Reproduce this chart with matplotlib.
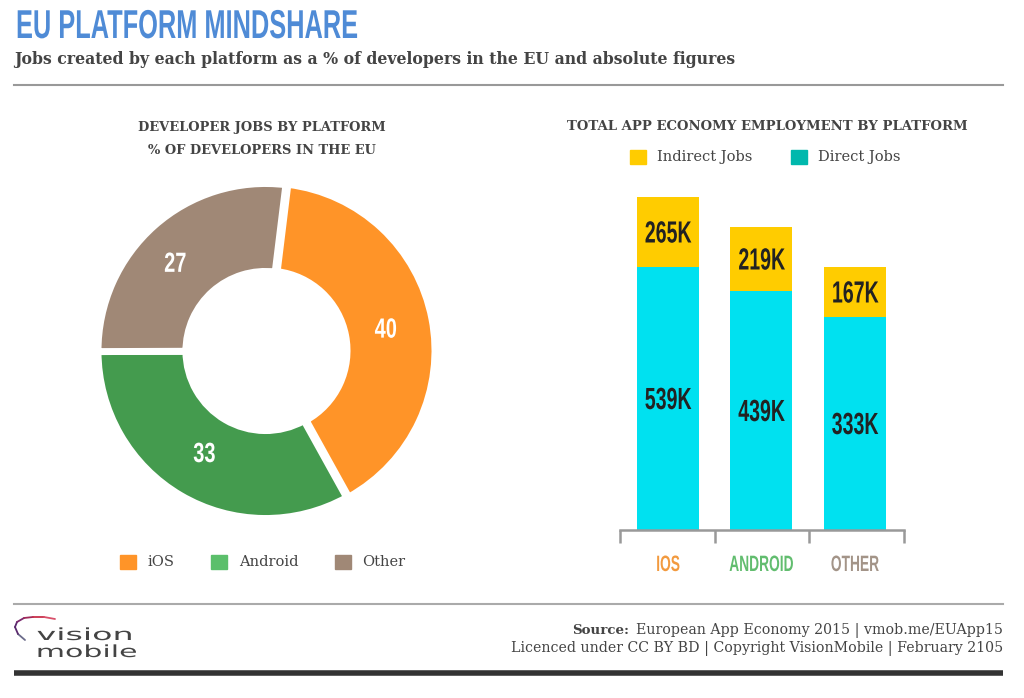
import matplotlib
matplotlib.use("Agg")
import matplotlib.pyplot as plt
import numpy as np
from matplotlib.patches import Patch
from matplotlib.patheffects import AbstractPathEffect
from matplotlib.transforms import Affine2D

W, H = 1024, 698
SANS = ["Liberation Sans", "DejaVu Sans"]
SERIF = ["DejaVu Serif"]

platforms = ["iOS", "Android", "Other"]
share_values = [40, 33, 27]
share_colors = ["#FF9428", "#449B4E", "#A08876"]
share_legend_colors = ["#FF9428", "#5BBF6B", "#A08876"]

bar_labels = ["IOS", "ANDROID", "OTHER"]
bar_label_colors = ["#F29A3F", "#62BD6F", "#A39488"]
direct_labels = ["539K", "439K", "333K"]
indirect_labels = ["265K", "219K", "167K"]
# The source's bars are not drawn to scale with their labels, so drawn heights are read separately.
direct_heights = [263, 239, 213]
indirect_heights = [70, 64, 50]


class HScale(AbstractPathEffect):
    """Squeeze or stretch a text horizontally: no condensed face is installed."""

    def __init__(self, sx, anchor="center"):
        super().__init__()
        self.sx, self.anchor = sx, anchor

    def draw_path(self, renderer, gc, tpath, affine, rgbFace=None):
        box = tpath.transformed(affine).get_extents()
        x0 = box.x0 if self.anchor == "left" else (box.x0 + box.x1) / 2
        squeeze = Affine2D().translate(-x0, 0).scale(self.sx, 1).translate(x0, 0)
        renderer.draw_path(gc, tpath, affine + squeeze, rgbFace)


fig = plt.figure(figsize=(W / 100, H / 100), dpi=100, facecolor="white")


def axes_px(x0, y0, x1, y1):
    return fig.add_axes([x0 / W, 1 - y1 / H, (x1 - x0) / W, (y1 - y0) / H])


page = axes_px(0, 0, W, H)
page.set_xlim(0, W)
page.set_ylim(H, 0)
page.axis("off")

page.text(15, 38, "EU PLATFORM MINDSHARE", family=SANS, weight="bold", fontsize=29, color="#4F8BD6", va="baseline",
          path_effects=[HScale(0.63, "left")])
page.text(14, 60, "Jobs created by each platform as a % of developers in the EU and absolute figures",
          family=SERIF, weight="bold", fontsize=11.35, color="#444444", va="center")
page.plot([14, 1003], [85, 85], color="#999999", lw=1.5)
page.plot([14, 1003], [604, 604], color="#AAAAAA", lw=1.5)
page.plot([14, 1003], [673, 673], color="#333333", lw=4, solid_capstyle="butt")

page.text(262, 127, "DEVELOPER JOBS BY PLATFORM", family=SERIF, weight="bold", fontsize=9.4, color="#444444", ha="center", va="center")
page.text(262, 150, "% OF DEVELOPERS IN THE EU", family=SERIF, weight="bold", fontsize=9.4, color="#444444", ha="center", va="center")
page.text(767, 127, "TOTAL APP ECONOMY EMPLOYMENT BY PLATFORM", family=SERIF, weight="bold", fontsize=9.5, color="#444444", ha="center", va="center")

page.text(1003, 630, "European App Economy 2015 | vmob.me/EUApp15", family=SERIF, fontsize=10.15, color="#444444", ha="right", va="center")
page.text(629, 630, "Source:", family=SERIF, weight="bold", fontsize=9.6, color="#444444", ha="right", va="center")
page.text(1003, 649, "Licenced under CC BY BD | Copyright VisionMobile | February 2105", family=SERIF, fontsize=10.15, color="#444444", ha="right", va="center")

# logo
arc_x = [25, 18, 15, 17, 24, 33, 44, 55]
arc_y = [640, 634, 627, 622, 618, 617, 617, 619]
arc_c = ["#6B6B8A", "#5A2A6E", "#5A2A6E", "#7A2A6E", "#A02A5A", "#C8304A", "#D8506A"]
for i, c in enumerate(arc_c):
    page.plot(arc_x[i:i + 2], arc_y[i:i + 2], color=c, lw=1.3, solid_capstyle="round")
page.text(37, 635, "vision", family=["DejaVu Sans"], fontsize=12, color="#444444", va="center",
          path_effects=[HScale(2.0, "left")])
page.text(37, 652, "mobile", family=["DejaVu Sans"], fontsize=12, color="#444444", va="center",
          path_effects=[HScale(1.8, "left")])

# donut
R = 167.5
cx, cy = 265.5, 351
pie_ax = axes_px(cx - 1.2 * R, cy - 1.2 * R, cx + 1.2 * R, cy + 1.2 * R)
_, _, pcts = pie_ax.pie(share_values, colors=share_colors, startangle=83, counterclock=False, radius=1,
                        explode=[0.012, 0, 0], pctdistance=0.72,
                        autopct=lambda p: f"{p:.0f}",
                        wedgeprops=dict(width=0.525, edgecolor="white", linewidth=5),
                        textprops=dict(color="white", family=SANS, weight="bold", fontsize=20))
for t in pcts:
    t.set_path_effects([HScale(0.72)])
px, py = pcts[0].get_position()
pcts[0].set_position((px, py - 0.018))
px, py = pcts[2].get_position()
pcts[2].set_position((px - 0.06, py - 0.024))
pie_ax.set_xlim(-1.2, 1.2)
pie_ax.set_ylim(-1.2, 1.2)
page.legend(handles=[Patch(color=c, label=l) for c, l in zip(share_legend_colors, platforms)],
            loc="center left", bbox_to_anchor=(120 / W, 1 - 562 / H), ncol=3, frameon=False,
            prop=dict(family=SERIF, size=10.5), labelcolor="#444444", handlelength=1.1, handleheight=1.1,
            handletextpad=0.8, columnspacing=2.5, borderpad=0, borderaxespad=0)

# stacked bars
bar_ax = axes_px(620, 190, 904, 530)
x = np.arange(3)
bw = 0.663
bars_d = bar_ax.bar(x, direct_heights, bw, color="#00E1F0")
bars_i = bar_ax.bar(x, indirect_heights, bw, bottom=direct_heights, color="#FFCC00")
bar_ax.set_xlim(-0.513, 2.524)
bar_ax.set_ylim(0, 340)
for s in ["top", "left", "right"]:
    bar_ax.spines[s].set_visible(False)
bar_ax.spines["bottom"].set_color("#999999")
bar_ax.spines["bottom"].set_linewidth(1.8)
bar_ax.set_yticks([])
bar_ax.set_xticks(x)
bar_ax.set_xticklabels(bar_labels, family=SANS, weight="bold", fontsize=16)
bar_ax.tick_params(axis="x", which="major", length=0, pad=18)
for lab, c in zip(bar_ax.get_xticklabels(), bar_label_colors):
    lab.set_color(c)
    lab.set_path_effects([HScale(0.62)])
bar_ax.set_xticks([-0.513, 0.5, 1.51, 2.524], minor=True)
bar_ax.tick_params(axis="x", which="minor", length=9.5, width=1.8, color="#999999")
for bars, labels in ((bars_d, direct_labels), (bars_i, indirect_labels)):
    for r, lab in zip(bars, labels):
        bar_ax.text(r.get_x() + r.get_width() / 2, r.get_y() + r.get_height() / 2 - 2.5, lab, ha="center", va="center",
                    family=SANS, weight="bold", fontsize=22, color="#222222", path_effects=[HScale(0.64)])
bar_ax.legend(handles=[Patch(color="#FFCC00", label="Indirect Jobs"), Patch(color="#00B8AD", label="Direct Jobs")],
              loc="center left", bbox_to_anchor=(10 / 284, (530 - 157) / 340), ncol=2, frameon=False,
              prop=dict(family=SERIF, size=10.5), labelcolor="#444444", handlelength=1.1, handleheight=1.1,
              handletextpad=0.75, columnspacing=2.66, borderpad=0, borderaxespad=0)

fig.savefig("out.png", dpi=100, facecolor="white")
